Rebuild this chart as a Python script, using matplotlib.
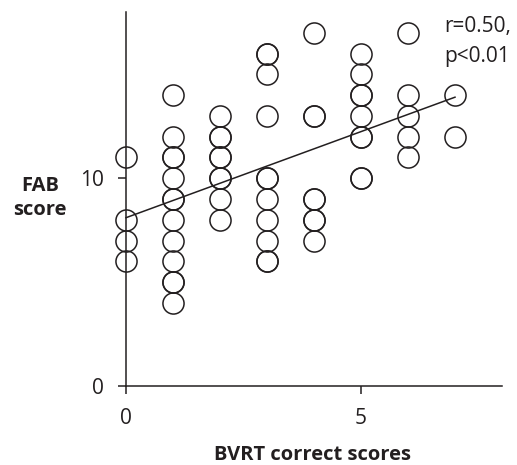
import matplotlib
matplotlib.use("Agg")
import matplotlib.pyplot as plt

# Data (duplicates where circles look heavier)
bvrt = [0, 0, 0, 0,
        1, 1, 1, 1, 1, 1, 1, 1, 1, 1, 1, 1, 1,
        2, 2, 2, 2, 2, 2, 2, 2, 2,
        3, 3, 3, 3, 3, 3, 3, 3, 3, 3, 3,
        4, 4, 4, 4, 4, 4, 4, 4,
        5, 5, 5, 5, 5, 5, 5, 5, 5,
        6, 6, 6, 6, 6,
        7, 7]
fab = [11, 8, 7, 6,
       14, 12, 11, 11, 10, 9, 9, 8, 7, 6, 5, 5, 4,
       13, 12, 12, 11, 11, 10, 10, 9, 8,
       16, 16, 15, 13, 10, 10, 9, 8, 7, 6, 6,
       17, 13, 13, 9, 9, 8, 8, 7,
       16, 15, 14, 14, 13, 12, 12, 10, 10,
       17, 14, 13, 12, 11,
       14, 12]
fit_x = [0, 7]
fit_y = [8.1, 13.9]
xticks = [0, 5]
yticks = [0, 10]
stats_lines = ["r=0.50,", "p<0.01"]

ink = "#231f20"
plt.rcParams['font.family'] = ['Open Sans', 'DejaVu Sans']

W, H = 517, 465
fig = plt.figure(figsize=(W/100, H/100), dpi=100)
ax = fig.add_axes([126/W, 1-386/H, (502-126)/W, (386-12)/H])

ax.plot(bvrt, fab, linestyle='none', marker='o', markersize=15.2,
        markerfacecolor='none', markeredgecolor=ink, markeredgewidth=1.1,
        clip_on=False, zorder=3)
ax.plot(fit_x, fit_y, color=ink, linewidth=1.1, zorder=4, clip_on=False)

ax.set_xlim(0, 8)
ax.set_ylim(0, 18)
ax.set_xticks(xticks)
ax.set_yticks(yticks)
for s in ['top', 'right']:
    ax.spines[s].set_visible(False)
for s in ['left', 'bottom']:
    ax.spines[s].set_color(ink)
    ax.spines[s].set_linewidth(1.1)
ax.tick_params(axis='both', direction='out', length=6, width=1.1,
               color=ink, labelcolor=ink, labelsize=15)
ax.tick_params(axis='y', pad=10)
ax.tick_params(axis='x', pad=10)

for line, base in zip(stats_lines, [32, 62]):
    fig.text(444/W, 1-base/H, line, ha='left', va='baseline', fontsize=15,
             color=ink)

fig.text(40/W, 1-198/H, "FAB\nscore", ha='center', va='center',
         fontsize=14.5, fontweight='bold', color=ink, linespacing=1.3)
fig.text(313/W, 1-460/H, "BVRT correct scores", ha='center', va='baseline',
         fontsize=14.5, fontweight='bold', color=ink)

fig.savefig("out.png", dpi=100)
